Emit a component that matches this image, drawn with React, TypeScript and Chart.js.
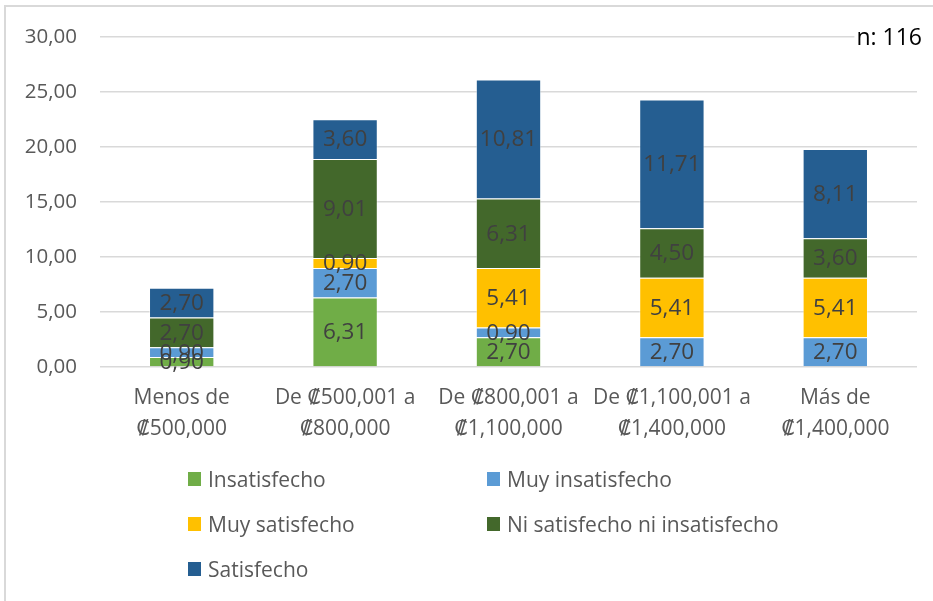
import React, { useEffect, useRef } from "react";
import { Chart, registerables } from "chart.js";

Chart.register(...registerables);

const categories: string[][] = [
  ["Menos de", "₡500,000"],
  ["De ₡500,001 a", "₡800,000"],
  ["De ₡800,001 a", "₡1,100,000"],
  ["De ₡1,100,001 a", "₡1,400,000"],
  ["Más de", "₡1,400,000"],
];

const seriesNames = [
  "Insatisfecho",
  "Muy insatisfecho",
  "Muy satisfecho",
  "Ni satisfecho ni insatisfecho",
  "Satisfecho",
];

const insatisfecho = [0.9, 6.31, 2.7, 0, 0];
const muyInsatisfecho = [0.9, 2.7, 0.9, 2.7, 2.7];
const muySatisfecho = [0, 0.9, 5.41, 5.41, 5.41];
const niSatisfecho = [2.7, 9.01, 6.31, 4.5, 3.6];
const satisfecho = [2.7, 3.6, 10.81, 11.71, 8.11];

const seriesColors = ["#70AD47", "#5B9BD5", "#FFC000", "#43682B", "#255E91"];

const yTicks = [0, 5, 10, 15, 20, 25, 30];
const noteText = "n: 116";

const FONT = "'Open Sans', 'DejaVu Sans', sans-serif";

const fmt = (v: number) => v.toFixed(2).replace(".", ",");

const labelsPlugin = {
  id: "segLabels",
  afterDatasetsDraw(chart: any) {
    const ctx = chart.ctx;
    ctx.save();
    ctx.font = `22.5px ${FONT}`;
    ctx.fillStyle = "#404040";
    ctx.textAlign = "center";
    ctx.textBaseline = "middle";
    chart.data.datasets.forEach((ds: any, di: number) => {
      const meta = chart.getDatasetMeta(di);
      meta.data.forEach((el: any, i: number) => {
        const v = ds.data[i];
        if (!v) return;
        const y = (el.y + el.base) / 2;
        ctx.fillText(fmt(v), el.x, y + 1);
      });
    });
    ctx.restore();
  },
};

const notePlugin = {
  id: "note",
  afterDraw(chart: any) {
    const ctx = chart.ctx;
    ctx.save();
    ctx.font = `23px ${FONT}`;
    const w = ctx.measureText(noteText).width;
    const right = 922;
    const cy = 38;
    ctx.fillStyle = "#ffffff";
    ctx.fillRect(right - w - 2, cy - 13, w + 4, 26);
    ctx.fillStyle = "#000000";
    ctx.textAlign = "right";
    ctx.textBaseline = "middle";
    ctx.fillText(noteText, right, cy);
    ctx.restore();
  },
};

export default function App() {
  const ref = useRef<HTMLCanvasElement | null>(null);

  useEffect(() => {
    if (!ref.current) return;
    const seriesData = [insatisfecho, muyInsatisfecho, muySatisfecho, niSatisfecho, satisfecho];
    const chart = new Chart(ref.current, {
      type: "bar",
      data: {
        labels: categories,
        datasets: seriesNames.map((name, i) => ({
          label: name,
          data: seriesData[i],
          backgroundColor: seriesColors[i],
          borderColor: "rgba(255,255,255,0.45)",
          borderWidth: 1,
          barPercentage: 0.4,
          categoryPercentage: 1,
        })),
      },
      options: {
        animation: false,
        responsive: false,
        maintainAspectRatio: false,
        layout: { padding: { top: 37, right: 16, left: 0, bottom: 0 } },
        plugins: {
          legend: { display: false },
          tooltip: { enabled: false },
        },
        scales: {
          x: {
            stacked: true,
            grid: { display: false, drawTicks: false },
            border: { display: false },
            ticks: {
              color: "#595959",
              font: { family: FONT, size: 21, lineHeight: 1.48 },
              padding: 15,
              maxRotation: 0,
              autoSkip: false,
            },
            afterFit(scale: any) {
              scale.height = 234;
            },
          },
          y: {
            stacked: true,
            min: 0,
            max: 30,
            afterBuildTicks(scale: any) {
              scale.ticks = yTicks.map((v) => ({ value: v }));
            },
            grid: { color: "#D9D9D9", lineWidth: 1.5, drawTicks: false },
            border: { display: false },
            ticks: {
              color: "#595959",
              font: { family: FONT, size: 20.5 },
              padding: 23,
              callback: (v: any) => fmt(Number(v)),
            },
            afterFit(scale: any) {
              scale.width = 100;
            },
          },
        },
      },
      plugins: [labelsPlugin, notePlugin],
    });
    return () => chart.destroy();
  }, []);

  const legendPos = [
    { x: 188, y: 479 },
    { x: 487, y: 479 },
    { x: 188, y: 524 },
    { x: 487, y: 524 },
    { x: 188, y: 569 },
  ];

  return (
    <div
      style={{
        position: "absolute",
        left: 0,
        top: 0,
        width: 933,
        height: 601,
        background: "#ffffff",
        overflow: "hidden",
        fontFamily: FONT,
      }}
    >
      <div
        style={{
          position: "absolute",
          left: 4,
          top: 5,
          width: 960,
          height: 640,
          borderLeft: "2px solid #D9D9D9",
          borderTop: "2px solid #D9D9D9",
        }}
      />
      <canvas
        ref={ref}
        width={933}
        height={601}
        style={{ position: "absolute", left: 0, top: 0, width: 933, height: 601 }}
      />
      {seriesNames.map((name, i) => (
        <div
          key={name}
          style={{
            position: "absolute",
            left: legendPos[i].x,
            top: legendPos[i].y - 14,
            height: 28,
            display: "flex",
            alignItems: "center",
            whiteSpace: "nowrap",
            color: "#595959",
            fontSize: 21,
          }}
        >
          <span
            style={{
              display: "inline-block",
              width: 13,
              height: 14,
              background: seriesColors[i],
              marginRight: 7,
            }}
          />
          <span>{name}</span>
        </div>
      ))}
    </div>
  );
}
